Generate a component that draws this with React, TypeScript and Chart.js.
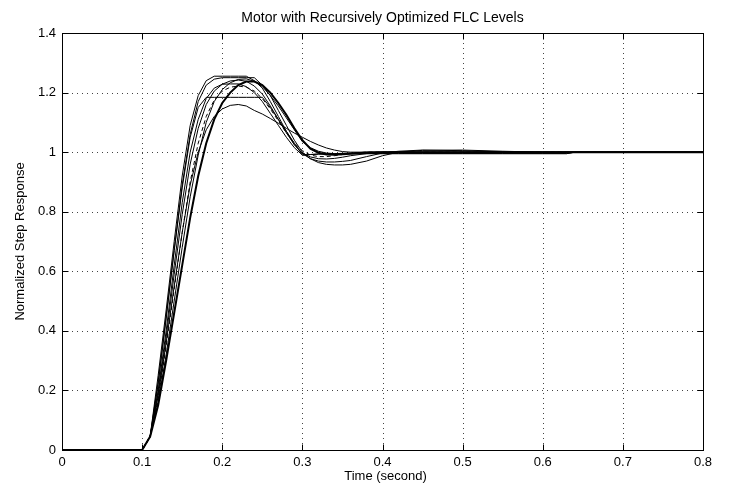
import React, { useEffect, useRef } from "react";
import { Chart, registerables } from "chart.js";

Chart.register(...registerables);

const TITLE = "Motor with Recursively Optimized FLC Levels";
const X_LABEL = "Time (second)";
const Y_LABEL = "Normalized Step Response";

const X_TICKS = [0, 0.1, 0.2, 0.3, 0.4, 0.5, 0.6, 0.7, 0.8];
const Y_TICKS = [0, 0.2, 0.4, 0.6, 0.8, 1, 1.2, 1.4];

// shared time grid (s)
const T = [0, 0.1, 0.11, 0.12, 0.13, 0.14, 0.15, 0.16, 0.17, 0.18, 0.19, 0.2, 0.21, 0.22, 0.23, 0.24, 0.25, 0.26, 0.27, 0.28, 0.29, 0.3, 0.31, 0.32, 0.33, 0.34, 0.35, 0.36, 0.38, 0.4, 0.42, 0.45, 0.5, 0.55, 0.6, 0.63, 0.64, 0.7, 0.8];

const level1 = [0, 0, 0.045, 0.25, 0.47, 0.7, 0.92, 1.09, 1.19, 1.24, 1.255, 1.255, 1.255, 1.255, 1.255, 1.24, 1.215, 1.17, 1.12, 1.07, 1.025, 0.995, 0.978, 0.97, 0.967, 0.967, 0.969, 0.972, 0.985, 0.997, 1.003, 1.007, 1.005, 1.001, 1.0, 1.0, 1.0, 1.0, 1.0];
const level2 = [0, 0, 0.045, 0.23, 0.45, 0.67, 0.89, 1.06, 1.17, 1.225, 1.245, 1.25, 1.25, 1.25, 1.25, 1.25, 1.225, 1.19, 1.14, 1.09, 1.04, 1.0, 0.978, 0.965, 0.959, 0.957, 0.957, 0.959, 0.97, 0.988, 1.0, 1.006, 1.007, 1.003, 1.0, 1.0, 1.0, 1.0, 1.0];
const level3 = [0, 0, 0.045, 0.22, 0.44, 0.67, 0.88, 1.05, 1.15, 1.184, 1.184, 1.184, 1.184, 1.184, 1.184, 1.184, 1.184, 1.15, 1.11, 1.07, 1.03, 0.99, 0.992, 0.993, 0.994, 0.994, 0.995, 0.995, 0.995, 0.995, 0.995, 0.995, 0.995, 0.995, 0.995, 0.995, 1.0, 1.0, 1.0];
const level4 = [0, 0, 0.045, 0.2, 0.4, 0.62, 0.83, 1.0, 1.11, 1.18, 1.215, 1.228, 1.229, 1.229, 1.22, 1.2, 1.17, 1.13, 1.09, 1.05, 1.015, 0.99, 0.992, 0.994, 0.995, 0.995, 0.995, 0.995, 0.995, 0.995, 0.995, 0.995, 0.995, 0.995, 0.995, 0.995, 1.0, 1.0, 1.0];
const level5 = [0, 0, 0.045, 0.19, 0.38, 0.59, 0.79, 0.96, 1.08, 1.16, 1.205, 1.228, 1.239, 1.242, 1.238, 1.222, 1.195, 1.155, 1.11, 1.065, 1.025, 0.997, 0.984, 0.978, 0.977, 0.979, 0.983, 0.988, 0.995, 1.0, 1.0, 1.0, 1.0, 1.0, 1.0, 1.0, 1.0, 1.0, 1.0];
const level6 = [0, 0, 0.045, 0.17, 0.35, 0.54, 0.73, 0.9, 1.03, 1.12, 1.175, 1.205, 1.218, 1.222, 1.218, 1.205, 1.18, 1.145, 1.105, 1.065, 1.03, 1.005, 0.99, 0.985, 0.985, 0.988, 0.992, 0.996, 1.0, 1.0, 1.0, 1.0, 1.0, 1.0, 1.0, 1.0, 1.0, 1.0, 1.0];
const level7 = [0, 0, 0.045, 0.16, 0.32, 0.5, 0.68, 0.85, 0.99, 1.1, 1.17, 1.21, 1.233, 1.244, 1.246, 1.238, 1.22, 1.19, 1.155, 1.115, 1.075, 1.035, 1.015, 1.003, 0.997, 0.995, 0.996, 0.997, 1.0, 1.0, 1.0, 1.0, 1.0, 1.0, 1.0, 1.0, 1.0, 1.0, 1.0];
const level8 = [0, 0, 0.045, 0.18, 0.36, 0.55, 0.73, 0.89, 1.0, 1.075, 1.12, 1.145, 1.157, 1.16, 1.155, 1.14, 1.128, 1.113, 1.097, 1.08, 1.064, 1.05, 1.036, 1.024, 1.014, 1.007, 1.002, 1.0, 1.0, 1.0, 1.0, 1.0, 1.0, 1.0, 1.0, 1.0, 1.0, 1.0, 1.0];
const finalLevel = [0, 0, 0.045, 0.15, 0.3, 0.46, 0.62, 0.78, 0.92, 1.03, 1.11, 1.165, 1.2, 1.225, 1.237, 1.237, 1.225, 1.2, 1.165, 1.125, 1.08, 1.04, 1.012, 0.998, 0.992, 0.991, 0.993, 0.995, 0.998, 1.0, 1.0, 1.0, 1.0, 1.0, 1.0, 1.0, 1.0, 1.0, 1.0];

const FONT = "Arial, 'Liberation Sans', Helvetica, sans-serif";

function fmt(v: number): string {
  return String(Math.round(v * 10) / 10);
}

export default function App() {
  const ref = useRef<HTMLCanvasElement>(null);

  useEffect(() => {
    document.body.style.margin = "0";
    const canvas = ref.current;
    if (!canvas) return;

    const mk = (vals: number[], extra: any = {}) => ({
      data: T.map((t, i) => ({ x: t, y: vals[i] })),
      borderColor: "#000",
      backgroundColor: "#000",
      borderWidth: 1,
      pointRadius: 0,
      fill: false,
      tension: 0,
      clip: 2,
      ...extra,
    });

    const framePlugin = {
      id: "frame",
      beforeDatasetsDraw(chart: any) {
        const { ctx, chartArea: a, scales } = chart;
        ctx.save();
        ctx.strokeStyle = "#444";
        ctx.lineWidth = 1;
        ctx.setLineDash([1, 4]);
        X_TICKS.slice(1, -1).forEach((v) => {
          const x = Math.round(scales.x.getPixelForValue(v)) + 0.5;
          ctx.beginPath();
          ctx.moveTo(x, a.top);
          ctx.lineTo(x, a.bottom);
          ctx.stroke();
        });
        Y_TICKS.slice(1, -1).forEach((v) => {
          const y = Math.round(scales.y.getPixelForValue(v)) + 0.5;
          ctx.beginPath();
          ctx.moveTo(a.left, y);
          ctx.lineTo(a.right, y);
          ctx.stroke();
        });
        ctx.restore();
      },
      afterDatasetsDraw(chart: any) {
        const { ctx, chartArea: a, scales } = chart;
        ctx.save();
        ctx.strokeStyle = "#000";
        ctx.lineWidth = 1;
        ctx.setLineDash([]);
        const L = Math.round(a.left) + 0.5;
        const R = Math.round(a.right) + 0.5;
        const Tp = Math.round(a.top) + 0.5;
        const B = Math.round(a.bottom) + 0.5;
        ctx.strokeRect(L, Tp, R - L, B - Tp);
        const tl = 6;
        X_TICKS.forEach((v) => {
          const x = Math.round(scales.x.getPixelForValue(v)) + 0.5;
          ctx.beginPath();
          ctx.moveTo(x, B);
          ctx.lineTo(x, B - tl);
          ctx.moveTo(x, Tp);
          ctx.lineTo(x, Tp + tl);
          ctx.stroke();
        });
        Y_TICKS.forEach((v) => {
          const y = Math.round(scales.y.getPixelForValue(v)) + 0.5;
          ctx.beginPath();
          ctx.moveTo(L, y);
          ctx.lineTo(L + tl, y);
          ctx.moveTo(R, y);
          ctx.lineTo(R - tl, y);
          ctx.stroke();
        });
        // titles
        ctx.fillStyle = "#000";
        ctx.textAlign = "center";
        ctx.textBaseline = "middle";
        ctx.font = `14px ${FONT}`;
        ctx.fillText(TITLE, (a.left + a.right) / 2, 18);
        ctx.font = `13px ${FONT}`;
        ctx.fillText(X_LABEL, (a.left + a.right) / 2 + 3, 476);
        ctx.translate(20, (a.top + a.bottom) / 2);
        ctx.rotate(-Math.PI / 2);
        ctx.fillText(Y_LABEL, 0, 0);
        ctx.restore();
      },
    };

    const chart = new Chart(canvas, {
      type: "line",
      data: {
        datasets: [
          mk(level1),
          mk(level2),
          mk(level3),
          mk(level4),
          mk(level5),
          mk(level6, { borderDash: [4, 3] }),
          mk(level7),
          mk(level8),
          mk(finalLevel, { borderWidth: 2 }),
        ],
      },
      options: {
        animation: false,
        responsive: false,
        devicePixelRatio: 1,
        layout: { padding: { top: 33, right: 31, left: 0, bottom: 0 } },
        plugins: { legend: { display: false }, tooltip: { enabled: false }, title: { display: false } },
        elements: { line: { borderCapStyle: "butt", borderJoinStyle: "miter" } },
        scales: {
          x: {
            type: "linear",
            min: 0,
            max: 0.8,
            afterBuildTicks: (s: any) => {
              s.ticks = X_TICKS.map((v) => ({ value: v }));
            },
            afterFit: (s: any) => {
              s.height = 37;
            },
            grid: { display: false, drawTicks: false },
            border: { display: false },
            ticks: {
              color: "#000",
              padding: 5,
              maxRotation: 0,
              autoSkip: false,
              font: { family: FONT, size: 13 },
              callback: (v: any) => fmt(Number(v)),
            },
          },
          y: {
            type: "linear",
            min: 0,
            max: 1.4,
            afterBuildTicks: (s: any) => {
              s.ticks = Y_TICKS.map((v) => ({ value: v }));
            },
            afterFit: (s: any) => {
              s.width = 62;
            },
            grid: { display: false, drawTicks: false },
            border: { display: false },
            ticks: {
              color: "#000",
              padding: 6,
              autoSkip: false,
              font: { family: FONT, size: 13 },
              callback: (v: any) => fmt(Number(v)),
            },
          },
        },
      },
      plugins: [framePlugin],
    });

    return () => chart.destroy();
  }, []);

  return <canvas ref={ref} width={734} height={487} style={{ display: "block" }} />;
}
